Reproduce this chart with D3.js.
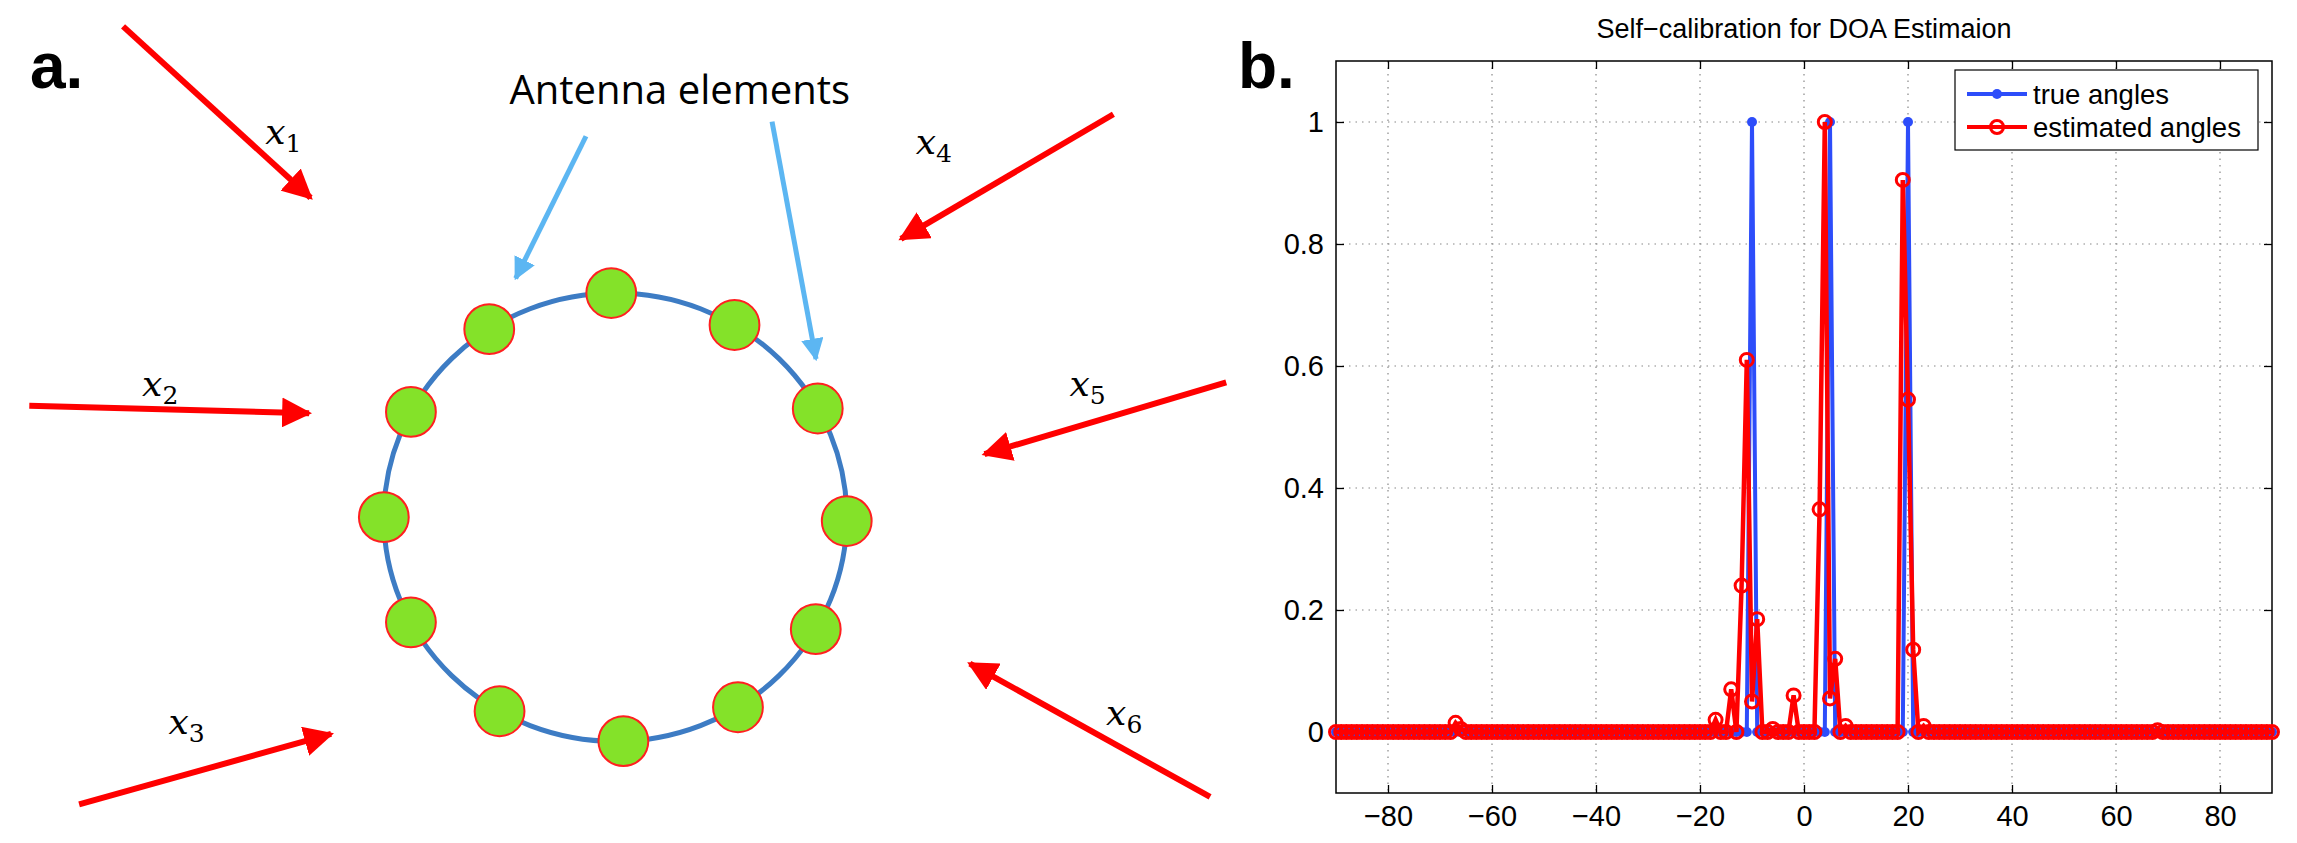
<!DOCTYPE html><html><head><meta charset="utf-8">
<script src="https://cdn.jsdelivr.net/npm/d3@7"></script>
<style>body{margin:0;background:#fff}</style></head><body>
<svg id="c" width="2297" height="843"></svg>
<script>
// ---------- data ----------
const angles = d3.range(-90, 91, 1);
const trueAngles = [-10, 5, 20];
const estX = [-67, -66, -17, -14, -12, -11, -10, -9, -6, -2, 3, 4, 5, 6, 8, 19, 20, 21, 23, 68];
const estY = [0.015, 0.005, 0.02, 0.07, 0.24, 0.61, 0.05, 0.185, 0.005, 0.06, 0.365, 1.0, 0.055, 0.12, 0.01, 0.905, 0.545, 0.135, 0.01, 0.003];
const xTicks = [-80, -60, -40, -20, 0, 20, 40, 60, 80];
const yTicks = [0, 0.2, 0.4, 0.6, 0.8, 1];
const seriesNames = ["true angles", "estimated angles"];
const elementAngles = [-1, 31, 61, 91, 120, 148, 178, 210, 242, 270, 298, 327];
const signalLabels = ["1", "2", "3", "4", "5", "6"];

const trueVals = angles.map(a => trueAngles.includes(a) ? 1 : 0);
const estVals = angles.map(a => { const i = estX.indexOf(a); return i >= 0 ? estY[i] : 0; });

const svg = d3.select("#c");
const red = "#ff0000", blue = "#2d4dfa";
const sans = "Liberation Sans, Arial";

// ---------- panel b ----------
const x = d3.scaleLinear().domain([-90, 90]).range([1336, 2272]);
const y = d3.scaleLinear().domain([-0.1, 1.1]).range([793, 61]);
const g = svg.append("g");
g.selectAll(".gx").data(xTicks).join("line").attr("x1", d => x(d)).attr("x2", d => x(d))
  .attr("y1", y(1.1)).attr("y2", y(-0.1)).attr("stroke", "#888").attr("stroke-dasharray", "1.5,5").attr("stroke-width", 1.2);
g.selectAll(".gy").data(yTicks).join("line").attr("y1", d => y(d)).attr("y2", d => y(d))
  .attr("x1", x(-90)).attr("x2", x(90)).attr("stroke", "#888").attr("stroke-dasharray", "1.5,5").attr("stroke-width", 1.2);
g.append("rect").attr("x", x(-90)).attr("y", y(1.1)).attr("width", x(90) - x(-90)).attr("height", y(-0.1) - y(1.1))
  .attr("fill", "none").attr("stroke", "#000").attr("stroke-width", 1.5);
const ax = g.append("g").attr("transform", `translate(0,${y(-0.1)})`)
  .call(d3.axisBottom(x).tickValues(xTicks).tickSize(-8).tickFormat(d => d < 0 ? "\u2212" + (-d) : d).tickPadding(10));
const ay = g.append("g").attr("transform", `translate(${x(-90)},0)`)
  .call(d3.axisLeft(y).tickValues(yTicks).tickSize(-8).tickFormat(d3.format("~g")).tickPadding(10));
g.append("g").attr("transform", `translate(0,${y(1.1)})`).call(d3.axisTop(x).tickValues(xTicks).tickSize(-8).tickFormat(""));
g.append("g").attr("transform", `translate(${x(90)},0)`).call(d3.axisRight(y).tickValues(yTicks).tickSize(-8).tickFormat(""));
g.selectAll(".domain").remove();
g.selectAll(".tick line").attr("stroke", "#000").attr("stroke-width", 1.3);
g.selectAll(".tick text").attr("font-family", sans).attr("font-size", 29).attr("fill", "#000");
ay.selectAll(".tick text").attr("dx", -2);
ax.selectAll(".tick text").attr("dy", "0.8em");
const line = d3.line().x((d, i) => x(angles[i])).y(d => y(d));
g.append("path").datum(trueVals).attr("d", line).attr("fill", "none").attr("stroke", blue).attr("stroke-width", 4);
g.selectAll(".td").data(trueVals).join("circle").attr("cx", (d, i) => x(angles[i])).attr("cy", d => y(d)).attr("r", 5).attr("fill", blue);
g.append("path").datum(estVals).attr("d", line).attr("fill", "none").attr("stroke", red).attr("stroke-width", 4.5);
g.selectAll(".ed").data(estVals).join("circle").attr("cx", (d, i) => x(angles[i])).attr("cy", d => y(d)).attr("r", 6.5)
  .attr("fill", "none").attr("stroke", red).attr("stroke-width", 3);
svg.append("text").attr("x", (x(-90) + x(90)) / 2).attr("y", 38).attr("text-anchor", "middle")
  .attr("font-family", sans).attr("font-size", 27).text("Self\u2212calibration for DOA Estimaion");
const lg = svg.append("g").attr("transform", "translate(1955,70)");
lg.append("rect").attr("width", 303).attr("height", 80).attr("fill", "#fff").attr("stroke", "#000").attr("stroke-width", 1.2);
seriesNames.forEach((n, i) => {
  const yy = 24 + i * 33, c = i ? red : blue;
  lg.append("line").attr("x1", 12).attr("x2", 72).attr("y1", yy).attr("y2", yy).attr("stroke", c).attr("stroke-width", 4);
  if (i) lg.append("circle").attr("cx", 42).attr("cy", yy).attr("r", 6.5).attr("fill", "none").attr("stroke", c).attr("stroke-width", 3);
  else lg.append("circle").attr("cx", 42).attr("cy", yy).attr("r", 5).attr("fill", c);
  lg.append("text").attr("x", 78).attr("y", yy + 10).attr("font-family", sans).attr("font-size", 27.5).text(n);
});
svg.append("text").attr("x", 1238).attr("y", 88).attr("font-family", "Liberation Sans, Arial").attr("font-weight", "bold").attr("font-size", 64).text("b.");

// ---------- panel a ----------
svg.append("text").attr("x", 30).attr("y", 88).attr("font-family", "Liberation Sans, Arial").attr("font-weight", "bold").attr("font-size", 64).text("a.");
const defs = svg.append("defs");
[["ar", red, 5], ["ab", "#5cb6f2", 4.5]].forEach(([id, c, w]) => {
  defs.append("marker").attr("id", id).attr("viewBox", "0 0 10 10").attr("refX", 9).attr("refY", 5)
    .attr("markerWidth", w).attr("markerHeight", w).attr("orient", "auto")
    .append("path").attr("d", "M0,0L10,5L0,10z").attr("fill", c);
});
const s = 1.465;
const redArrows = [[84, 18, 212, 135], [20, 277, 211, 282], [54, 549, 226, 501], [760, 78, 615, 163], [837, 261, 672, 310], [826, 544, 662, 453]];
const labelPos = [[181, 98], [97, 270], [115, 501], [625, 105], [730, 270], [755, 495]];
svg.selectAll(".ra").data(redArrows).join("line").attr("x1", d => d[0] * s).attr("y1", d => d[1] * s)
  .attr("x2", d => d[2] * s).attr("y2", d => d[3] * s).attr("stroke", red).attr("stroke-width", 6).attr("marker-end", "url(#ar)");
labelPos.forEach((p, i) => {
  const t = svg.append("text").attr("x", p[0] * s).attr("y", p[1] * s).attr("font-family", "DejaVu Serif, serif").attr("font-size", 36);
  t.append("tspan").attr("font-style", "italic").text("x");
  t.append("tspan").attr("dy", 8).attr("font-size", 25).text(signalLabels[i]);
});
const blueArrows = [[400, 93, 352, 190], [527, 83, 557, 245]];
svg.selectAll(".ba").data(blueArrows).join("line").attr("x1", d => d[0] * s).attr("y1", d => d[1] * s)
  .attr("x2", d => d[2] * s).attr("y2", d => d[3] * s).attr("stroke", "#5cb6f2").attr("stroke-width", 5).attr("marker-end", "url(#ab)");
svg.append("text").attr("x", 464 * s).attr("y", 71 * s).attr("text-anchor", "middle").attr("font-family", "Open Sans, Liberation Sans")
  .attr("font-size", 40).text("Antenna elements");
const cx = 420 * s, cy = 353 * s, rx = 158 * s, ry = 153 * s;
svg.append("ellipse").attr("cx", cx).attr("cy", cy).attr("rx", rx).attr("ry", ry).attr("fill", "none").attr("stroke", "#3d7cc4").attr("stroke-width", 5);
svg.selectAll(".el").data(elementAngles).join("circle")
  .attr("cx", d => cx + rx * Math.sin(d * Math.PI / 180)).attr("cy", d => cy - ry * Math.cos(d * Math.PI / 180))
  .attr("r", 17 * s).attr("fill", "#84e229").attr("stroke", "#ff2020").attr("stroke-width", 2);
</script></body></html>
